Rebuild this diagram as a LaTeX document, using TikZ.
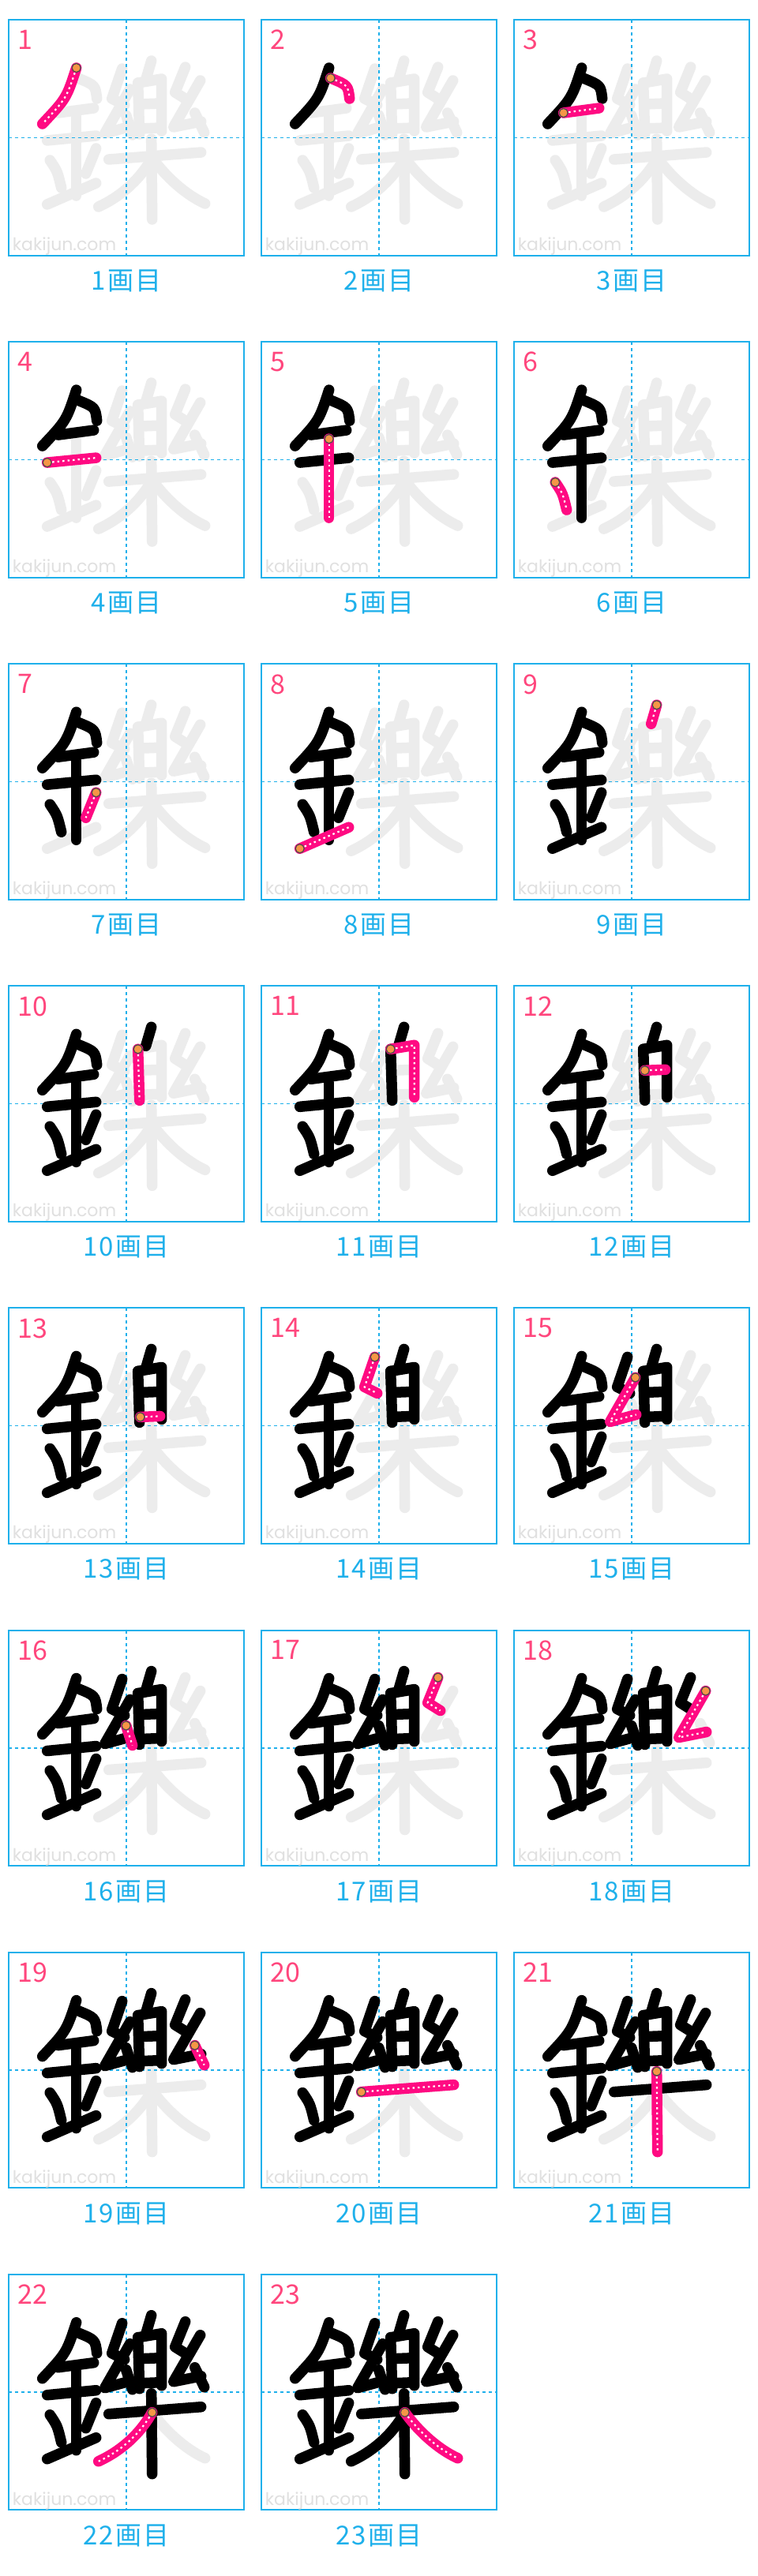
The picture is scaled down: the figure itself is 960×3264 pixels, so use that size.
\documentclass[tikz,border=0pt]{standalone}
\usepackage{fontspec}
\usepackage{xcolor}
\usepackage{tikz}
\newfontfamily\jpfont{Noto Sans CJK JP}
\newfontfamily\jplabelfont[LetterSpace=6]{Noto Sans CJK JP}
\newfontfamily\wmfont{Poppins}

\definecolor{gridblue}{RGB}{30,176,235}
\definecolor{strokepink}{RGB}{255,10,130}
\definecolor{numpink}{RGB}{255,70,125}
\definecolor{ghostgray}{RGB}{236,236,236}
\definecolor{dotorange}{RGB}{246,150,70}
\definecolor{wmgray}{RGB}{224,224,224}

% one stroke of the character, #1 = style, #2 = number
\newcommand\kstroke[2]{%
	\ifcase#2\or
	\draw[#1] (86,61) coordinate (s) .. controls (73.5,99.5) .. (43,132);\or
	\draw[#1] (88,74) coordinate (s) .. controls (110,83) .. (112,100);\or
	\draw[#1] (63,118) coordinate (s) -- (108,112);\or
	\draw[#1] (49,153) coordinate (s) -- (111,147);\or
	\draw[#1] (86,123) coordinate (s) -- (86,223);\or
	\draw[#1] (52.5,178) coordinate (s) .. controls (62,192) .. (67,213);\or
	\draw[#1] (111,163) coordinate (s) -- (98,195);\or
	\draw[#1] (49,234) coordinate (s) -- (111,207);\or
	\draw[#1] (181,52) coordinate (s) -- (174,76);\or
	\draw[#1] (164,80) coordinate (s) -- (166,145);\or
	\draw[#1] (164,80) coordinate (s) -- (194,75) -- (194,141);\or
	\draw[#1] (166,107) coordinate (s) -- (192,106);\or
	\draw[#1] (167,138) coordinate (s) -- (192,137);\or
	\draw[#1] (144,62) coordinate (s) -- (131,100) -- (147,108);\or
	\draw[#1] (154,88) coordinate (s) -- (122,144) -- (155,135);\or
	\draw[#1] (149,121) coordinate (s) -- (157,146);\or
	\draw[#1] (224,60) coordinate (s) -- (211,92) -- (227,102);\or
	\draw[#1] (243,77) coordinate (s) -- (209,136) -- (244,129);\or
	\draw[#1] (236,118) coordinate (s) -- (248,143);\or
	\draw[#1] (127,177) coordinate (s) -- (244,168);\or
	\draw[#1] (181,151) coordinate (s) -- (182,253);\or
	\draw[#1] (182,175) coordinate (s) .. controls (165,205) and (140,225) .. (114,237);\or
	\draw[#1] (182,175) coordinate (s) .. controls (200,200) and (225,222) .. (249,233);\fi}

\tikzset{
	ghost/.style={ghostgray, line width=13.5, line cap=round, line join=round},
	done/.style={black, line width=13.5, line cap=round, line join=round},
	now/.style={strokepink, line width=13.5, line cap=round, line join=round},
	nowdots/.style={white, line width=2.2, dash pattern=on 2.5pt off 4pt},
	startdot/.style={fill=dotorange, draw=black!70, line width=1.2},
	panelbox/.style={draw=gridblue, line width=2},
	guideline/.style={gridblue, line width=1.5, dash pattern=on 4pt off 4pt},
	stepnum/.style={anchor=north west, inner sep=0, text=numpink, font=\jpfont\fontsize{34}{34}\selectfont},
	steplabel/.style={inner sep=0, text=gridblue, font=\jplabelfont\fontsize{33}{33}\selectfont},
	watermark/.style={anchor=west, inner sep=0, text=wmgray, font=\wmfont\fontsize{22}{22}\selectfont}
}

\begin{document}
\begin{tikzpicture}[x=1pt, y=-1pt]
	\useasboundingbox[fill=white] (0,0) rectangle (960,3264);
	\foreach \n in {1,...,23}{
		\pgfmathtruncatemacro\col{mod(\n-1,3)}
		\pgfmathtruncatemacro\row{div(\n-1,3)}
		\begin{scope}[shift={({10.7+320*\col},{25+408.1*\row})}]
			\foreach \k in {1,...,23}{\kstroke{ghost}{\k}}
			\draw[guideline] (149.25,0) -- (149.25,298.5);
			\draw[guideline] (0,149.25) -- (298.5,149.25);
			\draw[panelbox] (0,0) rectangle (298.5,298.5);
			\node[watermark] (wm-\n) at (5,287) {kakijun.com};
			\node[stepnum] (num-\n) at (11.5,13) {\n};
			\node[steplabel] (lab-\n) at (149.25,331) {\n{}画目};
			\foreach \k in {1,...,23}{\ifnum\k<\n \kstroke{done}{\k}\fi}
			\kstroke{now}{\n}
			\kstroke{nowdots}{\n}
			\draw[startdot] (s) circle (5.5);
		\end{scope}
	}
\end{tikzpicture}
\end{document}
